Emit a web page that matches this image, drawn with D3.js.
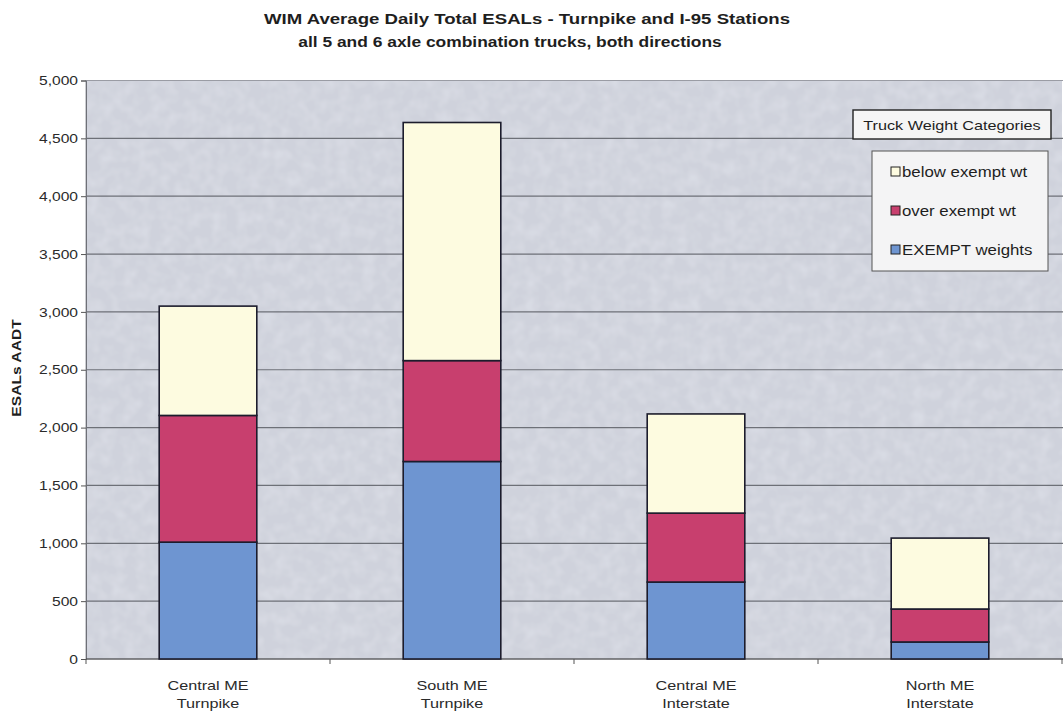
<!DOCTYPE html>
<html>
<head>
<meta charset="utf-8">
<script src="https://cdn.jsdelivr.net/npm/d3@7"></script>
<style>
  html, body { margin: 0; padding: 0; background: #ffffff; }
  svg { display: block; font-family: "Liberation Sans", Arial, sans-serif; }
</style>
</head>
<body>
<svg id="chart" width="1063" height="713"></svg>
<script>
// Stations (two-line labels) and ESAL values per weight category
const stations = ["Central ME|Turnpike", "South ME|Turnpike", "Central ME|Interstate", "North ME|Interstate"];
const exemptWeights = [1010, 1707, 665, 147];
const overExempt = [1095, 872, 596, 285];
const belowExempt = [945, 2058, 857, 613];
const seriesNames = ["EXEMPT weights", "over exempt wt", "below exempt wt"];
const seriesColors = ["#6e95d1", "#c83f6e", "#fdfbe0"];
const yTicks = [0, 500, 1000, 1500, 2000, 2500, 3000, 3500, 4000, 4500, 5000];

const rows = stations.map((s, i) => ({
  station: s,
  "EXEMPT weights": exemptWeights[i],
  "over exempt wt": overExempt[i],
  "below exempt wt": belowExempt[i]
}));

// The typeface is set slightly wide: stretch each label horizontally
const WIDE = 1.2;
function widen(sel) {
  sel.each(function () {
    const len = this.getComputedTextLength();
    d3.select(this).attr("textLength", len * WIDE).attr("lengthAdjust", "spacingAndGlyphs");
  });
}

const svg = d3.select("#chart");
const plot = { left: 86, right: 1062, top: 80.5, bottom: 659 };

// Mottled background texture for the plot area
const defs = svg.append("defs");
const filt = defs.append("filter").attr("id", "grain").attr("x", 0).attr("y", 0).attr("width", "100%").attr("height", "100%");
filt.append("feTurbulence").attr("type", "fractalNoise").attr("baseFrequency", 0.08).attr("numOctaves", 2).attr("seed", 7).attr("result", "noise");
filt.append("feColorMatrix").attr("in", "noise").attr("type", "matrix")
  .attr("values", "0 0 0 0 0.74  0 0 0 0 0.76  0 0 0 0 0.82  0 0 0 -1.1 0.7").attr("result", "tint");
filt.append("feComposite").attr("in", "tint").attr("in2", "SourceGraphic").attr("operator", "atop");

const x = d3.scaleBand()
  .domain(stations)
  .range([plot.left, plot.right])
  .paddingInner(0.6)
  .paddingOuter(0.3);

const y = d3.scaleLinear().domain([0, 5000]).range([plot.bottom, plot.top]);

// Plot background
svg.append("rect")
  .attr("x", plot.left).attr("y", plot.top)
  .attr("width", plot.right - plot.left).attr("height", plot.bottom - plot.top)
  .attr("fill", "#c6cad5");
svg.append("rect")
  .attr("x", plot.left).attr("y", plot.top)
  .attr("width", plot.right - plot.left).attr("height", plot.bottom - plot.top)
  .attr("fill", "#cfd2dc")
  .attr("filter", "url(#grain)");
svg.append("rect")
  .attr("x", plot.left).attr("y", plot.top)
  .attr("width", plot.right - plot.left + 2).attr("height", plot.bottom - plot.top)
  .attr("fill", "none").attr("stroke", "#9a9ca4").attr("stroke-width", 1);

// Horizontal gridlines
svg.append("g")
  .selectAll("line")
  .data(yTicks.filter(d => d > 0 && d < 5000))
  .join("line")
  .attr("x1", plot.left).attr("x2", plot.right + 2)
  .attr("y1", d => y(d)).attr("y2", d => y(d))
  .attr("stroke", "#5c5f66").attr("stroke-width", 1.2).attr("opacity", 0.85);

// Y axis
const yAxis = svg.append("g")
  .attr("transform", `translate(${plot.left},0)`)
  .call(d3.axisLeft(y).tickValues(yTicks).tickSize(5).tickPadding(3).tickFormat(d3.format(",")));
yAxis.select(".domain").attr("stroke", "#6e7077");
yAxis.selectAll(".tick line").attr("stroke", "#555");
yAxis.selectAll("text").attr("font-size", 13).attr("fill", "#2a2a2a")
  .attr("font-family", "'Liberation Sans', Arial, sans-serif")
  .call(widen);

// X axis baseline and ticks between stations
const xAxis = svg.append("g").attr("transform", `translate(0,${plot.bottom})`);
xAxis.append("line").attr("x1", plot.left).attr("x2", plot.right + 2).attr("y1", 0).attr("y2", 0)
  .attr("stroke", "#444").attr("stroke-width", 1.2);
const step = x.step();
const boundaries = d3.range(stations.length + 1).map(i => plot.left + i * step);
xAxis.selectAll("line.tk").data(boundaries).join("line").attr("class", "tk")
  .attr("x1", d => d).attr("x2", d => d).attr("y1", 0).attr("y2", 5)
  .attr("stroke", "#555");

// Stacked bars
const stack = d3.stack().keys(seriesNames);
const layers = stack(rows);
svg.append("g")
  .selectAll("g")
  .data(layers)
  .join("g")
  .attr("fill", (d, i) => seriesColors[i])
  .selectAll("rect")
  .data(d => d)
  .join("rect")
  .attr("x", d => x(d.data.station))
  .attr("y", d => y(d[1]))
  .attr("width", x.bandwidth())
  .attr("height", d => y(d[0]) - y(d[1]))
  .attr("stroke", "#1c1c2c")
  .attr("stroke-width", 1.6);

// Station labels (two lines)
const labelGroup = svg.append("g");
stations.forEach(d => {
  const cx = x(d) + x.bandwidth() / 2;
  d.split("|").forEach((part, i) => {
    labelGroup.append("text")
      .attr("x", cx)
      .attr("y", 690 + i * 17.5)
      .attr("text-anchor", "middle")
      .attr("font-size", 13.5)
      .attr("fill", "#2a2a2a")
      .text(part)
      .call(widen);
  });
});

// Y axis title
svg.append("text")
  .attr("transform", "translate(21,368) rotate(-90)")
  .attr("text-anchor", "middle")
  .attr("font-size", 13)
  .attr("font-weight", "bold")
  .attr("fill", "#1e1e1e")
  .text("ESALs AADT")
  .call(widen);

// Titles
svg.append("text")
  .attr("x", 527).attr("y", 24)
  .attr("text-anchor", "middle")
  .attr("font-size", 15.5).attr("font-weight", "bold").attr("fill", "#1e1e1e")
  .text("WIM Average Daily Total ESALs - Turnpike and I-95 Stations")
  .call(widen);
svg.append("text")
  .attr("x", 510).attr("y", 46.5)
  .attr("text-anchor", "middle")
  .attr("font-size", 14.5).attr("font-weight", "bold").attr("fill", "#1e1e1e")
  .text("all 5 and 6 axle combination trucks, both directions")
  .call(widen);

// Legend title box
const lt = svg.append("g");
lt.append("rect").attr("x", 853).attr("y", 110).attr("width", 198).attr("height", 29)
  .attr("fill", "#f5f5f5").attr("stroke", "#222").attr("stroke-width", 1.4);
lt.append("text").attr("x", 952).attr("y", 130).attr("text-anchor", "middle")
  .attr("font-size", 13.5).attr("fill", "#1e1e1e").text("Truck Weight Categories")
  .call(widen);

// Legend entries box
const lg = svg.append("g");
lg.append("rect").attr("x", 872).attr("y", 151).attr("width", 176).attr("height", 120)
  .attr("fill", "#f4f4f5").attr("stroke", "#555").attr("stroke-width", 1);
const legendOrder = [2, 1, 0];
const items = lg.selectAll("g.item").data(legendOrder).join("g").attr("class", "item")
  .attr("transform", (d, i) => `translate(891,${172 + i * 39})`);
items.append("rect").attr("x", 0).attr("y", -5).attr("width", 9).attr("height", 9)
  .attr("fill", d => seriesColors[d]).attr("stroke", "#222").attr("stroke-width", 1);
items.append("text").attr("x", 11).attr("y", 5).attr("font-size", 14).attr("fill", "#1e1e1e")
  .text(d => seriesNames[d])
  .call(widen);
</script>
</body>
</html>
